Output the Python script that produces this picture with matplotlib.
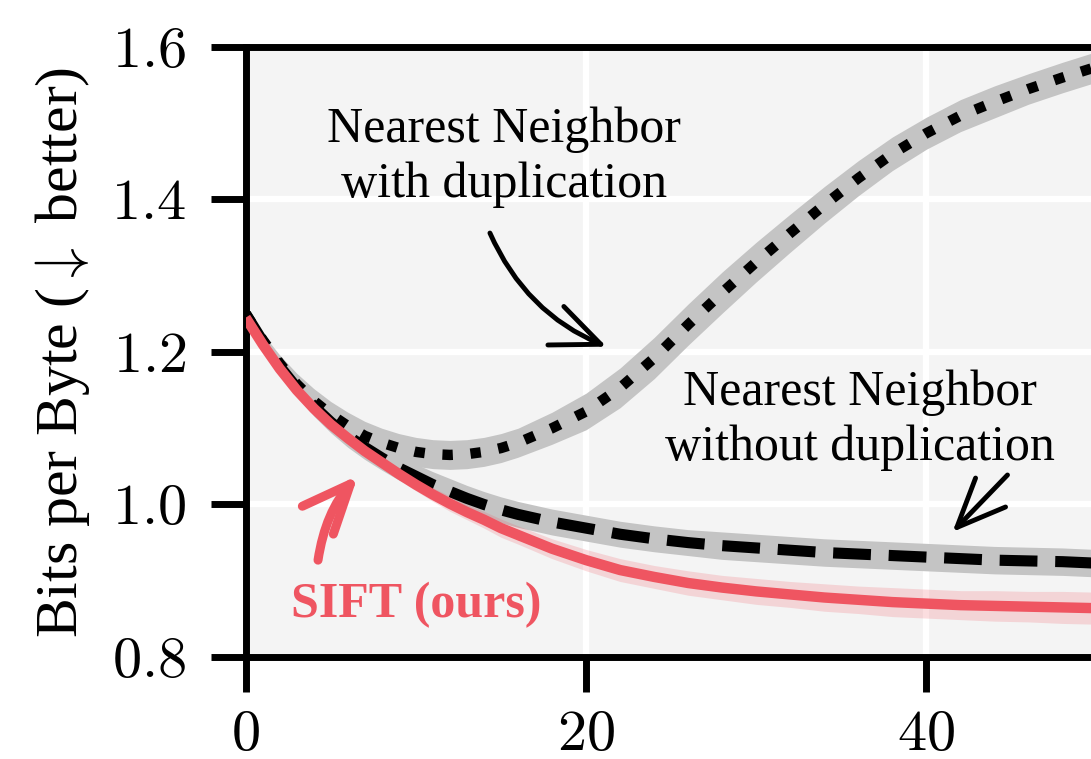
import matplotlib
matplotlib.use("Agg")
import matplotlib.pyplot as plt
import numpy as np
from matplotlib.ticker import FuncFormatter

plt.rcParams["font.family"] = ["Liberation Serif", "DejaVu Serif"]
plt.rcParams["mathtext.fontset"] = "cm"

# data
steps = [0, 1, 2, 3, 4, 5, 6, 7, 8, 9, 10, 11, 12, 13, 14, 15, 16, 18, 20,
         22, 24, 26, 28, 30, 32, 34, 36, 38, 40, 42, 44, 46, 48, 50]

nn_dup = [1.250, 1.216, 1.185, 1.158, 1.136, 1.118, 1.103, 1.090, 1.081, 1.074,
          1.069, 1.066, 1.065, 1.066, 1.069, 1.074, 1.081, 1.100, 1.122,
          1.153, 1.192, 1.236, 1.278, 1.318, 1.356, 1.393, 1.428, 1.460, 1.487,
          1.510, 1.528, 1.545, 1.560, 1.574]
nn_dup_std = [0.004, 0.008, 0.011, 0.014, 0.016, 0.017, 0.018, 0.019, 0.019, 0.019,
              0.019, 0.019, 0.019, 0.019, 0.019, 0.019, 0.019, 0.021, 0.024,
              0.026, 0.027, 0.027, 0.027, 0.026, 0.025, 0.024, 0.023, 0.022, 0.021,
              0.021, 0.021, 0.020, 0.020, 0.020]

nn_nodup = [1.250, 1.214, 1.181, 1.153, 1.129, 1.108, 1.090, 1.075, 1.061, 1.048,
            1.037, 1.026, 1.017, 1.008, 1.000, 0.993, 0.987, 0.977, 0.969,
            0.961, 0.955, 0.950, 0.946, 0.943, 0.940, 0.937, 0.935, 0.933, 0.931,
            0.929, 0.927, 0.926, 0.925, 0.923]
nn_nodup_std = [0.003, 0.006, 0.009, 0.011, 0.013, 0.014, 0.015, 0.016, 0.016, 0.016,
                0.016, 0.017, 0.017, 0.017, 0.017, 0.017, 0.017, 0.017, 0.017,
                0.017, 0.017, 0.017, 0.018, 0.018, 0.018, 0.018, 0.018, 0.018, 0.018,
                0.018, 0.018, 0.018, 0.018, 0.018]

sift = [1.245, 1.210, 1.178, 1.150, 1.126, 1.105, 1.087, 1.070, 1.055, 1.040,
        1.026, 1.013, 1.001, 0.990, 0.980, 0.969, 0.960, 0.942, 0.927,
        0.914, 0.905, 0.897, 0.891, 0.886, 0.882, 0.878, 0.875, 0.872, 0.870,
        0.868, 0.867, 0.866, 0.865, 0.864]
sift_std = [0.002, 0.003, 0.004, 0.005, 0.005, 0.006, 0.006, 0.007, 0.007, 0.008,
            0.008, 0.009, 0.010, 0.010, 0.011, 0.012, 0.012, 0.013, 0.014,
            0.015, 0.015, 0.016, 0.016, 0.017, 0.017, 0.018, 0.018, 0.019, 0.019,
            0.019, 0.020, 0.020, 0.021, 0.021]

x_ticks = [0, 20, 40]
y_ticks = [0.8, 1.0, 1.2, 1.4, 1.6]

RED = "#ef5561"
GRAY = "#c4c4c4"
ARROW = "->,head_length=3.5,head_width=1.5"

x = np.array(steps)
fig = plt.figure(figsize=(10.91, 7.59), dpi=100)
ax = fig.add_axes([0.2252, 0.1344, 0.780, 0.8037])
ax.set_facecolor("#f4f4f4")

for y, s in [(nn_dup, nn_dup_std), (nn_nodup, nn_nodup_std)]:
    y, s = np.array(y), np.array(s)
    ax.fill_between(x, y - s, y + s, color=GRAY, lw=0, zorder=2)
y, s = np.array(sift), np.array(sift_std)
ax.fill_between(x, y - s, y + s, color=RED, alpha=0.2, lw=0, zorder=3)

ax.plot(x, nn_dup, color="black", lw=7.5, linestyle=(0, (1, 1.7)),
        dash_capstyle="butt", zorder=4)
ax.plot(x, nn_nodup, color="black", lw=8, linestyle=(0, (3.4, 1.6)),
        dash_capstyle="butt", zorder=4)
ax.plot(x, sift, color=RED, lw=7.5, solid_capstyle="butt", zorder=5)

# annotations (y = baseline of the last line)
ax.text(15.17, 1.403, "Nearest Neighbor\nwith duplication", ha="center",
        va="baseline", fontsize=36, linespacing=1.25, multialignment="center")
ax.annotate("", xy=(21.2, 1.207), xytext=(14.35, 1.356),
            arrowprops=dict(arrowstyle=ARROW, lw=3.5, color="black",
                            mutation_scale=10, connectionstyle="arc3,rad=0.2",
                            shrinkA=0, shrinkB=0))

ax.text(36.07, 1.058, "Nearest Neighbor\nwithout duplication", ha="center",
        va="baseline", fontsize=36, linespacing=1.25, multialignment="center")
ax.annotate("", xy=(41.53, 0.964), xytext=(44.76, 1.0387),
            arrowprops=dict(arrowstyle=ARROW, lw=3.5, color="black",
                            mutation_scale=10, shrinkA=0, shrinkB=0))

ax.text(10.0, 0.8525, "SIFT (ours)", ha="center", va="baseline",
        fontsize=36, fontweight="bold", color=RED)
ax.annotate("", xy=(6.6, 1.038), xytext=(4.25, 0.927),
            arrowprops=dict(arrowstyle=ARROW, lw=6.5, color=RED,
                            mutation_scale=10, connectionstyle="arc3,rad=-0.15",
                            shrinkA=0, shrinkB=0))

ax.set_xlim(0, 50)
ax.set_ylim(0.8, 1.6)
ax.set_xticks(x_ticks)
ax.set_yticks(y_ticks)
ax.xaxis.set_major_formatter(FuncFormatter(lambda v, p: f"${v:.0f}$"))
ax.yaxis.set_major_formatter(FuncFormatter(lambda v, p: f"${v:.1f}$"))
ax.tick_params(axis="both", length=25, width=5, labelsize=42, color="black")
ax.tick_params(axis="x", pad=13)
ax.tick_params(axis="y", pad=18)

ax.grid(True, color="white", lw=4.5)
ax.set_axisbelow(True)
for side in ["left", "bottom", "top"]:
    ax.spines[side].set_linewidth(5)
    ax.spines[side].set_color("black")
ax.spines["right"].set_visible(False)

ax.set_ylabel("Bits per Byte ($\\downarrow$ better)", fontsize=43, labelpad=14)

fig.savefig("out.png", dpi=100)
